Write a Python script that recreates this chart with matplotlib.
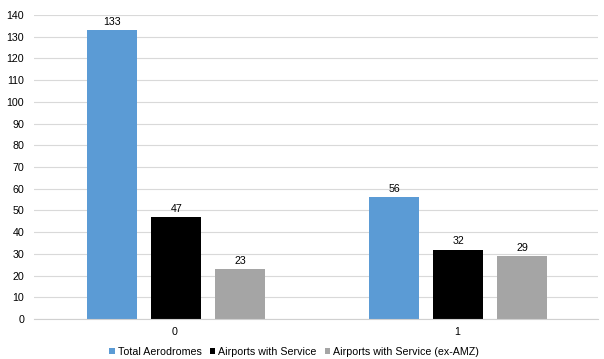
import numpy as np
import matplotlib.pyplot as plt

plt.rcParams['font.family'] = ['Liberation Sans', 'DejaVu Sans']

categories = ['0', '1']
total_aerodromes = [133, 56]
airports_service = [47, 32]
airports_ex_amz = [23, 29]

series = [
    ('Total Aerodromes', total_aerodromes, '#5B9BD5'),
    ('Airports with Service', airports_service, '#000000'),
    ('Airports with Service (ex-AMZ)', airports_ex_amz, '#A5A5A5'),
]

fs = 7.7
fig = plt.figure(figsize=(6.04, 3.59), dpi=100)
ax = fig.add_axes([34 / 604, 40 / 359, 564 / 604, 304 / 359])

x = np.arange(len(categories))
width = 0.177
step = 0.227
for i, (name, vals, color) in enumerate(series):
    bars = ax.bar(x + (i - 1) * step + 0.005, vals, width, color=color, label=name, zorder=3)
    for b, v in zip(bars, vals):
        ax.text(b.get_x() + b.get_width() / 2, v + 1.5, str(v),
                ha='center', va='bottom', fontsize=fs, color='#000000')

ax.set_xlim(-0.5, 1.5)
ax.set_ylim(0, 140)
ax.set_yticks(range(0, 141, 10))
ax.set_xticks(x)
ax.set_xticklabels(categories)
ax.tick_params(axis='both', length=0, labelsize=fs, colors='#000000')
ax.tick_params(axis='y', pad=7)
ax.tick_params(axis='x', pad=6)
ax.grid(axis='y', color='#D9D9D9', linewidth=0.8, zorder=0)
for s in ['top', 'right', 'left']:
    ax.spines[s].set_visible(False)
ax.spines['bottom'].set_color('#D0D0D0')
ax.spines['bottom'].set_zorder(4)

fig.legend(loc='lower center', bbox_to_anchor=(0.487, -0.012), ncol=3, frameon=False,
           fontsize=fs, handlelength=0.5, handleheight=0.5, handletextpad=0.25,
           columnspacing=0.8, borderaxespad=0.2)

fig.savefig('out.png', dpi=100)
